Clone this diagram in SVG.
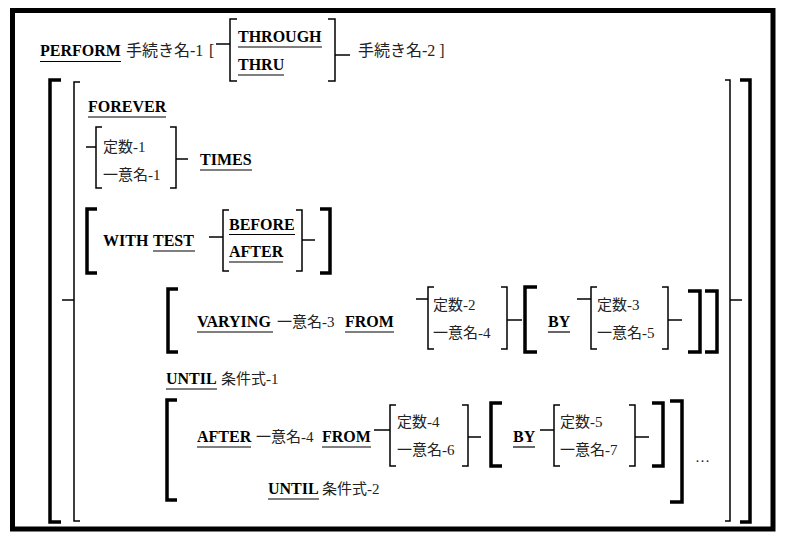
<svg xmlns="http://www.w3.org/2000/svg" width="785" height="542" viewBox="0 0 785 542">
<style>
.kw{font-family:"Liberation Serif",serif;font-weight:bold;font-size:16px;fill:#000}
.jp{font-family:"Liberation Serif","Noto Sans CJK JP",serif;font-size:15px;fill:#222}
.jp16{font-size:16px}
.thin{fill:none;stroke:#000;stroke-width:1.5}
.thick{fill:none;stroke:#000;stroke-width:3.5}
.ul{stroke:#000;stroke-width:1.2}
.cn{stroke:#000;stroke-width:1.5}
</style>
<rect width="785" height="542" fill="#fff"/>
<rect id="frame" x="12.5" y="10.5" width="760.5" height="518.5" fill="none" stroke="#000" stroke-width="5"/>

<g id="line-perform">
  <text class="kw" x="40" y="56">PERFORM</text>
  <line class="ul" x1="40" y1="61.5" x2="121" y2="61.5"/>
  <text class="jp jp16" x="126" y="56">手続き名-1</text>
  <text class="jp jp16" x="209" y="56">[</text>
  <path class="thin" d="M237,19 H230 V81 H237"/>
  <text class="kw" x="238" y="42">THROUGH</text>
  <line class="ul" x1="238" y1="47" x2="322" y2="47"/>
  <text class="kw" x="238" y="70">THRU</text>
  <line class="ul" x1="238" y1="75" x2="284" y2="75"/>
  <path class="thin" d="M328,19 H335 V81 H328"/>
  <text class="jp jp16" x="358" y="56">手続き名-2 ]</text>
</g>

<g id="outer-brackets">
  <path class="thick" d="M61,80 H50 V522 H61"/>
  <path class="thin" d="M80,82 H74 V521 H80"/>
  <path class="thin" d="M725,80 H730 V521 H725"/>
  <path class="thick" d="M740,80 H750 V522 H740"/>
</g>

<g id="forever">
  <text class="kw" x="88" y="112">FOREVER</text>
  <line class="ul" x1="88" y1="117" x2="166" y2="117"/>
</g>

<g id="times">
  <path class="thin" d="M102,127 H96 V188 H102"/>
  <text class="jp" x="103" y="152">定数-1</text>
  <text class="jp" x="103" y="180">一意名-1</text>
  <path class="thin" d="M170,127 H176 V188 H170"/>
  <text class="kw" x="200" y="165">TIMES</text>
  <line class="ul" x1="200" y1="170" x2="252" y2="170"/>
</g>

<g id="with-test">
  <path class="thick" d="M97,209 H87 V273 H97"/>
  <text class="kw" x="103" y="246">WITH</text>
  <text class="kw" x="153" y="246">TEST</text>
  <line class="ul" x1="153" y1="251" x2="195" y2="251"/>
  <path class="thin" d="M229,210 H223 V271 H229"/>
  <text class="kw" x="229" y="230">BEFORE</text>
  <line class="ul" x1="229" y1="234.5" x2="295" y2="234.5"/>
  <text class="kw" x="229" y="257">AFTER</text>
  <line class="ul" x1="229" y1="262" x2="283" y2="262"/>
  <path class="thin" d="M296,210 H302 V271 H296"/>
  <path class="thick" d="M320,209 H330 V273 H320"/>
</g>

<g id="varying">
  <path class="thick" d="M178,289 H168 V352 H178"/>
  <text class="kw" x="197" y="327">VARYING</text>
  <line class="ul" x1="197" y1="332" x2="273" y2="332"/>
  <text class="jp" x="277" y="327">一意名-3</text>
  <text class="kw" x="345" y="327">FROM</text>
  <line class="ul" x1="345" y1="332" x2="394" y2="332"/>
  <path class="thin" d="M434,287 H428 V349 H434"/>
  <text class="jp" x="433" y="310">定数-2</text>
  <text class="jp" x="433" y="338">一意名-4</text>
  <path class="thin" d="M501,287 H507 V349 H501"/>
  <path class="thick" d="M537,287 H525 V352 H537"/>
  <text class="kw" x="548" y="327">BY</text>
  <line class="ul" x1="548" y1="332" x2="570" y2="332"/>
  <path class="thin" d="M597,287 H591 V349 H597"/>
  <text class="jp" x="597" y="310">定数-3</text>
  <text class="jp" x="597" y="338">一意名-5</text>
  <path class="thin" d="M662,287 H668 V349 H662"/>
  <path class="thick" d="M688,291 H700 V352 H688"/>
  <path class="thick" d="M705,291 H717 V352 H705"/>
</g>

<g id="until-1">
  <text class="kw" x="166" y="384">UNTIL</text>
  <line class="ul" x1="166" y1="389" x2="217" y2="389"/>
  <text class="jp" x="221" y="384">条件式-1</text>
</g>

<g id="after">
  <path class="thick" d="M177,400 H167 V500 H177"/>
  <text class="kw" x="197" y="442">AFTER</text>
  <line class="ul" x1="197" y1="447" x2="251" y2="447"/>
  <text class="jp" x="256" y="442">一意名-4</text>
  <text class="kw" x="322" y="442">FROM</text>
  <line class="ul" x1="322" y1="447" x2="371" y2="447"/>
  <path class="thin" d="M396,405 H390 V466 H396"/>
  <text class="jp" x="397" y="427">定数-4</text>
  <text class="jp" x="397" y="455">一意名-6</text>
  <path class="thin" d="M462,405 H468 V466 H462"/>
  <path class="thick" d="M502,403 H491 V466 H502"/>
  <text class="kw" x="513" y="442">BY</text>
  <line class="ul" x1="513" y1="447" x2="535" y2="447"/>
  <path class="thin" d="M560,405 H554 V466 H560"/>
  <text class="jp" x="560" y="427">定数-5</text>
  <text class="jp" x="560" y="455">一意名-7</text>
  <path class="thin" d="M629,405 H635 V466 H629"/>
  <path class="thick" d="M652,403 H663 V466 H652"/>
  <path class="thick" d="M670,401 H682 V502 H670"/>
  <text class="jp" x="695" y="462">…</text>
</g>

<g id="until-2">
  <text class="kw" x="268" y="494">UNTIL</text>
  <line class="ul" x1="268" y1="499" x2="319" y2="499"/>
  <text class="jp" x="322" y="494">条件式-2</text>
</g>

<g id="connectors">
  <line class="cn" x1="216" y1="44" x2="230" y2="44"/>
  <line class="cn" x1="335" y1="55" x2="350" y2="55"/>
  <line class="cn" x1="62" y1="300" x2="74" y2="300"/>
  <line class="cn" x1="730" y1="300" x2="742" y2="300"/>
  <line class="cn" x1="86" y1="147" x2="96" y2="147"/>
  <line class="cn" x1="176" y1="159" x2="188" y2="159"/>
  <line class="cn" x1="209" y1="237" x2="223" y2="237"/>
  <line class="cn" x1="302" y1="240" x2="315" y2="240"/>
  <line class="cn" x1="416" y1="299" x2="428" y2="299"/>
  <line class="cn" x1="507" y1="320" x2="522" y2="320"/>
  <line class="cn" x1="577" y1="299" x2="591" y2="299"/>
  <line class="cn" x1="668" y1="320" x2="682" y2="320"/>
  <line class="cn" x1="374" y1="430" x2="390" y2="430"/>
  <line class="cn" x1="468" y1="437" x2="481" y2="437"/>
  <line class="cn" x1="540" y1="430" x2="554" y2="430"/>
  <line class="cn" x1="635" y1="437" x2="649" y2="437"/>
</g>
</svg>
